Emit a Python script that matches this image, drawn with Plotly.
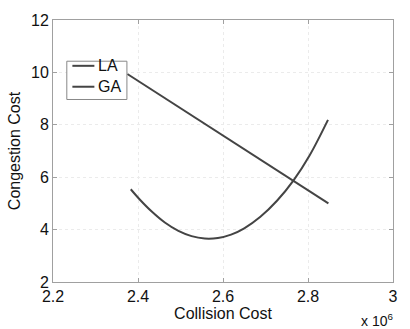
import plotly.graph_objects as go

# Collision cost (x 10^6) vs congestion cost for the two methods
la_collision = [2.383, 2.403, 2.433, 2.464, 2.495, 2.526, 2.557, 2.588,
                2.619, 2.650, 2.688, 2.727, 2.766, 2.804, 2.847]
la_congestion = [5.54, 5.17, 4.68, 4.26, 3.95, 3.75, 3.66, 3.68,
                 3.81, 4.05, 4.49, 5.10, 5.88, 6.84, 8.19]

ga_collision = [2.375, 2.848]
ga_congestion = [9.94, 5.00]

series_names = ["LA", "GA"]

x_ticks = [2.2, 2.4, 2.6, 2.8, 3.0]
x_tick_text = ["2.2", "2.4", "2.6", "2.8", "3"]
y_ticks = [2, 4, 6, 8, 10, 12]

line_color = "#444444"
text_color = "#111111"
font_family = "Liberation Sans, Arial, sans-serif"

fig = go.Figure()
fig.add_trace(go.Scatter(
    x=la_collision, y=la_congestion, name=series_names[0], mode="lines",
    line=dict(color=line_color, width=2, shape="spline", smoothing=1.0),
    showlegend=False,
))
fig.add_trace(go.Scatter(
    x=ga_collision, y=ga_congestion, name=series_names[1], mode="lines",
    line=dict(color=line_color, width=2),
    showlegend=False,
))

axis_common = dict(
    showline=True, linecolor="#a0a0a0", linewidth=1, mirror="ticks",
    ticks="inside", ticklen=4, tickcolor="#a0a0a0",
    showgrid=True, gridcolor="#ebebeb", griddash="dot", gridwidth=1,
    zeroline=False, tickfont=dict(size=16, color=text_color, family=font_family),
)

fig.update_xaxes(
    range=[2.2, 3.0], tickvals=x_ticks, ticktext=x_tick_text,
    title=dict(text="Collision Cost", font=dict(size=16, color=text_color, family=font_family), standoff=0),
    **axis_common,
)
fig.update_yaxes(
    range=[2, 12], tickvals=y_ticks,
    title=dict(text="Congestion Cost", font=dict(size=16, color=text_color, family=font_family), standoff=6),
    **axis_common,
)

# exponent label for the x axis
fig.add_annotation(
    x=1.0, y=0, xref="paper", yref="paper", xanchor="right", yanchor="top",
    yshift=-27, xshift=2, showarrow=False,
    text="x 10<sup>6</sup>", font=dict(size=14, color=text_color, family=font_family),
)

# boxed legend in the upper-left corner of the axes
legend_box = dict(x0=0.0406, x1=0.2174, y0=0.6966, y1=0.8427)
legend_rows_y = [0.8251, 0.7453]
sample_x = (0.057, 0.1217)
label_x = 0.1275

fig.add_shape(
    type="rect", xref="paper", yref="paper", layer="above",
    fillcolor="white", line=dict(color="#888888", width=1), **legend_box,
)
for name, row_y in zip(series_names, legend_rows_y):
    fig.add_shape(
        type="line", xref="paper", yref="paper", layer="above",
        x0=sample_x[0], x1=sample_x[1], y0=row_y, y1=row_y,
        line=dict(color=line_color, width=2),
    )
    fig.add_annotation(
        x=label_x, y=row_y, xref="paper", yref="paper",
        xanchor="left", yanchor="middle", showarrow=False,
        text=name, font=dict(size=16, color=text_color, family=font_family),
    )

fig.update_layout(
    width=410, height=329,
    margin=dict(l=53, r=12, t=15, b=47),
    plot_bgcolor="white", paper_bgcolor="white",
    showlegend=False,
)

fig.write_html("out.html")
